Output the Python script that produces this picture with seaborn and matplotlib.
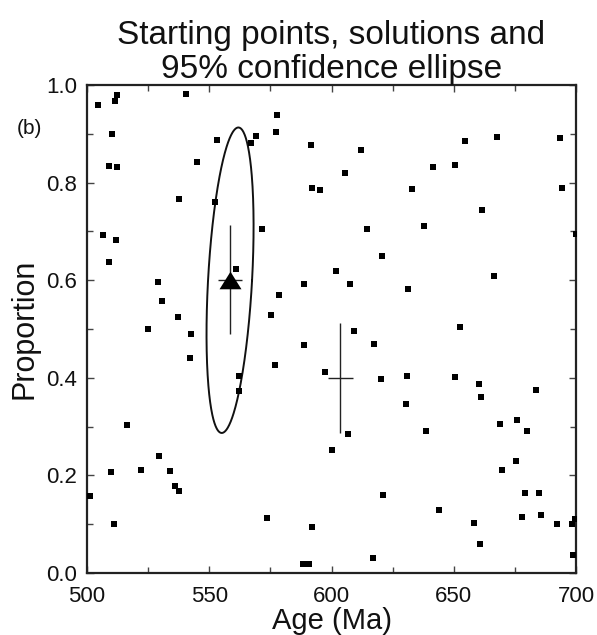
import numpy as np
import pandas as pd
import matplotlib
matplotlib.use("Agg")
import matplotlib.pyplot as plt
import seaborn as sns
from matplotlib.ticker import MultipleLocator, FormatStrFormatter

# Starting points (age in Ma, proportion)
start_age = [512.1, 511.3, 504.6, 540.5, 510.2, 553.3, 509.1, 512.4, 545.0, 537.6,
             552.4, 506.4, 511.7, 577.7, 577.4, 569.2, 567.0, 591.7, 612.2, 605.5,
             592.0, 595.3, 571.4, 614.4, 633.1, 654.5, 667.7, 693.3, 641.6, 650.6,
             694.1, 661.6, 637.8, 699.9, 508.9, 528.9, 530.6, 537.2, 525.0, 542.5,
             542.1, 560.8, 562.2, 562.0, 620.8, 602.0, 588.6, 607.6, 578.5, 631.2,
             575.3, 609.2, 588.6, 617.4, 576.8, 597.5, 620.4, 631.0, 630.3, 666.3,
             652.6, 650.5, 660.2, 661.1, 683.5, 516.2, 529.3, 509.8, 522.1, 534.1,
             536.0, 537.6, 501.2, 510.9, 606.7, 600.3, 620.9, 573.6, 592.0, 617.0,
             588.2, 590.6, 638.7, 669.0, 676.0, 679.8, 675.5, 669.6, 679.0, 685.0,
             643.8, 678.0, 685.8, 692.1, 698.2, 699.6, 658.3, 660.7, 698.8]
start_prop = [0.980, 0.967, 0.960, 0.981, 0.900, 0.887, 0.834, 0.831, 0.842, 0.766,
              0.761, 0.693, 0.683, 0.938, 0.904, 0.896, 0.881, 0.878, 0.867, 0.820,
              0.790, 0.785, 0.705, 0.705, 0.786, 0.886, 0.893, 0.892, 0.831, 0.836,
              0.790, 0.744, 0.712, 0.695, 0.637, 0.596, 0.558, 0.525, 0.501, 0.490,
              0.440, 0.624, 0.404, 0.374, 0.650, 0.619, 0.593, 0.592, 0.569, 0.583,
              0.528, 0.496, 0.468, 0.470, 0.427, 0.411, 0.398, 0.404, 0.346, 0.609,
              0.505, 0.402, 0.387, 0.360, 0.376, 0.304, 0.239, 0.208, 0.212, 0.210,
              0.178, 0.169, 0.158, 0.100, 0.285, 0.253, 0.160, 0.112, 0.094, 0.031,
              0.018, 0.018, 0.291, 0.305, 0.314, 0.291, 0.230, 0.211, 0.165, 0.164,
              0.130, 0.115, 0.118, 0.101, 0.100, 0.111, 0.102, 0.059, 0.037]

# Solutions: age, proportion, and their error half-widths
sol_age = [558.4, 603.6]
sol_prop = [0.601, 0.400]
sol_age_err = [5.0, 5.0]
sol_prop_err = [0.112, 0.113]

# 95% confidence ellipse parameters (centre, tilt vector to top, half width)
ell_center = (558.5, 0.600)
ell_top_offset = (3.4, 0.313)
ell_half_width = 9.0

df = pd.DataFrame({"age": start_age, "prop": start_prop})

sns.set_style("ticks")
plt.rcParams["font.family"] = ["Liberation Sans", "DejaVu Sans"]

fig = plt.figure(figsize=(5.97, 6.35), dpi=100)
ax = fig.add_axes([0.1457, 0.0976, 0.8193, 0.7685])

sns.scatterplot(data=df, x="age", y="prop", marker="s", s=20, color="black",
                edgecolor="black", linewidth=0, ax=ax, zorder=3)

# Ellipse
t = np.linspace(0, 2 * np.pi, 400)
ex = ell_center[0] + ell_top_offset[0] * np.sin(t) + ell_half_width * np.cos(t)
ey = ell_center[1] + ell_top_offset[1] * np.sin(t)
ax.plot(ex, ey, color="#111111", lw=1.4, zorder=2)

# Solutions with error bars
ax.errorbar(sol_age, sol_prop, xerr=sol_age_err, yerr=sol_prop_err, fmt="none",
            ecolor="#222222", elinewidth=1.0, capsize=0, zorder=2)
tri = [(0, 0.8), (-1, -0.8), (1, -0.8), (0, 0.8)]
ax.scatter([sol_age[0]], [sol_prop[0]], marker=tri, s=250, color="black",
           linewidth=0, zorder=4)

ax.set_xlim(500, 700)
ax.set_ylim(0, 1)
ax.xaxis.set_major_locator(MultipleLocator(50))
ax.xaxis.set_minor_locator(MultipleLocator(25))
ax.yaxis.set_major_locator(MultipleLocator(0.2))
ax.yaxis.set_minor_locator(MultipleLocator(0.1))
ax.yaxis.set_major_formatter(FormatStrFormatter("%.1f"))
ax.tick_params(which="both", direction="in", top=True, right=True,
               labelsize=16, width=1.0, color="#444444", labelcolor="#111111")
ax.tick_params(which="major", length=5)
ax.tick_params(which="minor", length=4)
ax.tick_params(axis="x", which="major", pad=9)
ax.tick_params(axis="y", which="major", pad=7)
for s in ax.spines.values():
    s.set_linewidth(1.6)
    s.set_color("#222222")

ax.set_xlabel("Age (Ma)", fontsize=21, color="#111111")
ax.xaxis.set_label_coords(0.5, -(629 - 573) / 488)
ax.xaxis.label.set_va("baseline")
ax.set_ylabel("Proportion", fontsize=22, labelpad=5, color="#111111")
ax.set_title("Starting points, solutions and\n95% confidence ellipse",
             fontsize=24, pad=3, linespacing=1.12, color="#111111")
fig.text(17 / 597, 1 - 129 / 635, "(b)", fontsize=15, va="center", ha="left",
         color="#111111")

fig.savefig("out.png", dpi=100)
